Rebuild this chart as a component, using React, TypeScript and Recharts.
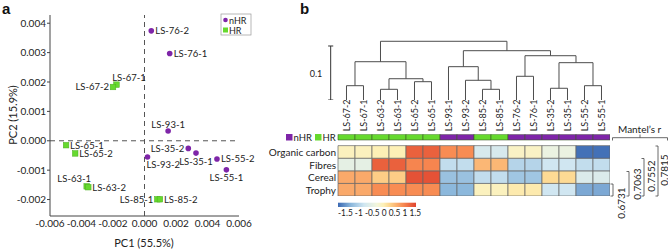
import React from 'react';
import { ScatterChart, Scatter, XAxis, YAxis, ReferenceLine, BarChart, Bar, Cell } from 'recharts';

const FONT = 'Lato, "Open Sans", sans-serif';
const PURPLE = '#7e25a8';
const GREEN = '#66d92e';
const TEXT = '#222';

// ---------- Panel a: PCA ----------
const sampleNames = ['LS-76-2', 'LS-76-1', 'LS-67-1', 'LS-67-2', 'LS-93-1', 'LS-65-1', 'LS-65-2', 'LS-35-2', 'LS-35-1', 'LS-93-2', 'LS-55-2', 'LS-55-1', 'LS-63-1', 'LS-63-2', 'LS-85-1', 'LS-85-2'];
const pc1Values = [0.00043, 0.0016, -0.00178, -0.002, 0.0015, -0.00498, -0.0044, 0.00278, 0.00327, 0.00019, 0.0046, 0.0052, -0.00367, -0.00357, 0.00081, 0.00098];
const pc2Values = [0.00374, 0.00297, 0.00191, 0.00183, 0.00033, -0.00015, -0.00043, -0.00026, -0.00042, -0.00055, -0.00062, -0.00099, -0.00155, -0.00158, -0.00199, -0.00199];
const sampleGroups = ['nHR', 'nHR', 'HR', 'HR', 'nHR', 'HR', 'HR', 'nHR', 'nHR', 'nHR', 'nHR', 'nHR', 'HR', 'HR', 'HR', 'HR'];
const labelSides = ['r', 'r', 'as', 'l', 'ac', 'r', 'r', 'l', 'bc', 'bs', 'r', 'bc', 'ae', 'r', 'l', 'r'];
const pc1Ticks = [-0.006, -0.004, -0.002, 0, 0.002, 0.004, 0.006];
const pc2Ticks = [-0.002, -0.001, 0, 0.001, 0.002, 0.003, 0.004];

// ---------- Panel b: dendrogram + heatmap ----------
const columnSamples = ['LS-67-2', 'LS-67-1', 'LS-63-2', 'LS-63-1', 'LS-65-2', 'LS-65-1', 'LS-93-1', 'LS-93-2', 'LS-85-2', 'LS-85-1', 'LS-76-2', 'LS-76-1', 'LS-35-2', 'LS-35-1', 'LS-55-2', 'LS-55-1'];
const columnGroups = ['HR', 'HR', 'HR', 'HR', 'HR', 'HR', 'nHR', 'nHR', 'HR', 'HR', 'nHR', 'nHR', 'nHR', 'nHR', 'nHR', 'nHR'];
// merges in linkage style: leaves 0..15, new clusters 16..30
const mergePairs: [number, number][] = [[0, 1], [2, 3], [4, 5], [17, 18], [16, 19], [8, 9], [7, 21], [6, 22], [10, 11], [12, 13], [14, 15], [25, 26], [24, 27], [23, 28], [20, 29]];
const mergeHeights = [0.0265, 0.0198, 0.0339, 0.0394, 0.0709, 0.0198, 0.0365, 0.0617, 0.0439, 0.0217, 0.0265, 0.0691, 0.082, 0.0913, 0.1087];
const rowNames = ['Organic carbon', 'Fibres', 'Cereal', 'Trophy'];
const organicCarbon = [0.2, 0.2, 0.25, 0.25, 1.3, 1.3, 1.0, 1.0, -0.4, -0.4, 0.15, 0.15, -0.12, -0.12, -1.45, -1.45];
const fibres = [-0.2, -0.2, 1.3, 1.3, 1.05, 1.05, -0.6, -0.6, 0.7, 0.7, -0.7, -0.7, -0.5, -0.5, -0.6, -0.6];
const cereal = [0.8, 0.8, 0.55, 0.55, 1.4, 1.4, -0.9, -0.9, -0.6, -0.6, -0.85, -0.85, 0.45, 0.45, -0.35, -0.35];
const trophy = [0.8, 0.8, 1.0, 1.0, 1.0, 1.0, -1.0, -1.0, 0.2, 0.2, 0.3, 0.3, -0.5, -0.5, -1.1, -1.1];
const colorbarTicks = [-1.5, -1, -0.5, 0, 0.5, 1, 1.5];
const mantelLabels = ['0.6731', '0.7063', '0.7552', '0.7815'];

const colorStops: [number, string][] = [
  [-1.5, '#3b69b3'], [-1, '#8cb8dc'], [-0.5, '#d0e6f1'], [0, '#f3f6dc'], [0.25, '#fdf0b6'],
  [0.5, '#fdd48c'], [1, '#f88c53'], [1.5, '#e0442f'],
];
function hexToRgb(h: string) { return [1, 3, 5].map((i) => parseInt(h.slice(i, i + 2), 16)); }
function heatColor(v: number) {
  if (v <= colorStops[0][0]) return colorStops[0][1];
  for (let i = 1; i < colorStops.length; i++) {
    const [v1, c1] = colorStops[i];
    const [v0, c0] = colorStops[i - 1];
    if (v <= v1) {
      const t = (v - v0) / (v1 - v0);
      const a = hexToRgb(c0), b = hexToRgb(c1);
      const m = a.map((x, k) => Math.round(x + (b[k] - x) * t));
      return `rgb(${m[0]},${m[1]},${m[2]})`;
    }
  }
  return colorStops[colorStops.length - 1][1];
}

// ---------- Panel a helpers ----------
const pcaData = sampleNames.map((name, i) => ({ name, x: pc1Values[i], y: pc2Values[i], group: sampleGroups[i], side: labelSides[i] }));
const nhrData = pcaData.filter((d) => d.group === 'nHR');
const hrData = pcaData.filter((d) => d.group === 'HR');

function PointShape(props: any) {
  const { cx, cy, payload } = props;
  if (cx == null || cy == null) return null;
  const isHR = payload.group === 'HR';
  let tx = cx + 4, ty = cy, anchor = 'start';
  switch (payload.side) {
    case 'l': tx = cx - 4; anchor = 'end'; break;
    case 'ac': tx = cx; ty = cy - 7; anchor = 'middle'; break;
    case 'as': tx = cx - 4.3; ty = cy - 7.5; anchor = 'start'; break;
    case 'ae': tx = cx + 4.3; ty = cy - 8; anchor = 'end'; break;
    case 'bc': tx = cx; ty = cy + 8; anchor = 'middle'; break;
    case 'bs': tx = cx - 1; ty = cy + 7.5; anchor = 'start'; break;
  }
  return (
    <g>
      {isHR ? (
        <rect x={cx - 2.8} y={cy - 2.8} width={5.6} height={5.6} fill={GREEN} stroke="#4cae22" strokeWidth={0.5} />
      ) : (
        <circle cx={cx} cy={cy} r={2.8} fill={PURPLE} />
      )}
      <text x={tx} y={ty} textAnchor={anchor as any} dominantBaseline="central" fontSize={9.5} fill={TEXT} fontFamily={FONT}>{payload.name}</text>
    </g>
  );
}

function PanelA() {
  return (
    <div style={{ position: 'absolute', left: 0, top: 0 }}>
      <ScatterChart width={268} height={249} margin={{ top: 15, right: 29, bottom: 13, left: 0 }}>
        <XAxis type="number" dataKey="x" domain={[-0.006, 0.006]} ticks={pc1Ticks} interval={0}
          tickFormatter={(v: number) => v.toFixed(3)} tickLine={false} tickSize={0} tickMargin={4} height={20}
          stroke="#444" tick={{ fontSize: 10, fill: TEXT, fontFamily: FONT }} />
        <YAxis type="number" dataKey="y" domain={[-0.00256, 0.00428]} ticks={pc2Ticks} interval={0}
          tickFormatter={(v: number) => v.toFixed(3)} tickSize={3} tickMargin={1} width={50}
          stroke="#444" tick={{ fontSize: 10, fill: TEXT, fontFamily: FONT }} />
        <ReferenceLine x={0} stroke="#555" strokeDasharray="5 4" />
        <ReferenceLine y={0} stroke="#555" strokeDasharray="5 4" />
        <Scatter data={nhrData} shape={PointShape} isAnimationActive={false} />
        <Scatter data={hrData} shape={PointShape} isAnimationActive={false} />
      </ScatterChart>
    </div>
  );
}

// ---------- Panel b helpers ----------
const nodeX: number[] = columnSamples.map((_, i) => i);
const nodeH: number[] = columnSamples.map(() => 0);
mergePairs.forEach(([a, b], k) => {
  nodeX.push((nodeX[a] + nodeX[b]) / 2);
  nodeH.push(mergeHeights[k]);
});
const dendroSegments: { x1: number; y1: number; x2: number; y2: number }[] = [];
mergePairs.forEach(([a, b], k) => {
  const h = mergeHeights[k];
  dendroSegments.push({ x1: nodeX[a], y1: nodeH[a], x2: nodeX[a], y2: h });
  dendroSegments.push({ x1: nodeX[b], y1: nodeH[b], x2: nodeX[b], y2: h });
  dendroSegments.push({ x1: nodeX[a], y1: h, x2: nodeX[b], y2: h });
});
const leafPoints = columnSamples.map((name, i) => ({ x: i, y: 0, name }));

function Dendrogram() {
  const scaleX = -0.93;
  return (
    <div style={{ position: 'absolute', left: 300, top: 40 }}>
      <ScatterChart width={310} height={60} margin={{ top: 0, right: 0, bottom: 0, left: 0 }}>
        <XAxis type="number" dataKey="x" domain={[-2.735, 15.5]} hide allowDataOverflow />
        <YAxis type="number" dataKey="y" domain={[0, 0.1111]} hide allowDataOverflow />
        {dendroSegments.map((s, i) => (
          <ReferenceLine key={i} segment={[{ x: s.x1, y: s.y1 }, { x: s.x2, y: s.y2 }]} stroke="#4d4d4d" strokeWidth={1} ifOverflow="visible" />
        ))}
        <ReferenceLine segment={[{ x: scaleX, y: 0 }, { x: scaleX, y: 0.1 }]} stroke="#333" ifOverflow="visible" />
        <ReferenceLine segment={[{ x: scaleX - 0.15, y: 0 }, { x: scaleX + 0.15, y: 0 }]} stroke="#333" ifOverflow="visible" />
        <ReferenceLine segment={[{ x: scaleX - 0.15, y: 0.1 }, { x: scaleX + 0.15, y: 0.1 }]} stroke="#333" ifOverflow="visible" />
        <Scatter data={leafPoints} shape={() => null} isAnimationActive={false} />
      </ScatterChart>
    </div>
  );
}

const heatRows = [organicCarbon, fibres, cereal, trophy];
const heatData = columnSamples.map((name, i) => ({ name, trophy: 1, cereal: 1, fibres: 1, organic: 1, gap: 0.45, group: 0.45, idx: i }));
const rowTickMap: Record<string, string> = { '3.5': rowNames[0], '2.5': rowNames[1], '1.5': rowNames[2], '0.5': rowNames[3] };

function LeafTick(props: any) {
  const { x, y, payload } = props;
  return (
    <text x={x} y={y} transform={`rotate(-90 ${x} ${y})`} textAnchor="start" dominantBaseline="central" fontSize={9} fill={TEXT} fontFamily={FONT}>{payload.value}</text>
  );
}

function RowTick(props: any) {
  const { x, y, payload } = props;
  return (
    <text x={x} y={y} textAnchor="end" dominantBaseline="central" fontSize={10} fill={TEXT} fontFamily={FONT}>{rowTickMap[String(payload.value)]}</text>
  );
}

function Heatmap() {
  const stroke = '#666';
  return (
    <div style={{ position: 'absolute', left: 268, top: 96 }}>
      <BarChart width={342} height={100} data={heatData} margin={{ top: 0, right: 0, bottom: 0, left: 0 }} barCategoryGap={0} barGap={0}>
        <XAxis dataKey="name" orientation="top" interval={0} axisLine={false} tickLine={false} tickSize={0} tickMargin={3} height={38.3} tick={<LeafTick />} />
        <YAxis type="number" domain={[0, 4.9]} ticks={[0.5, 1.5, 2.5, 3.5]} interval={0} width={70} axisLine={false} tickLine={false} tickSize={0} tickMargin={2}
          tick={<RowTick />} allowDataOverflow />
        <Bar dataKey="trophy" stackId="h" isAnimationActive={false} stroke={stroke} strokeWidth={0.7}>
          {heatRows[3].map((v, i) => <Cell key={i} fill={heatColor(v)} />)}
        </Bar>
        <Bar dataKey="cereal" stackId="h" isAnimationActive={false} stroke={stroke} strokeWidth={0.7}>
          {heatRows[2].map((v, i) => <Cell key={i} fill={heatColor(v)} />)}
        </Bar>
        <Bar dataKey="fibres" stackId="h" isAnimationActive={false} stroke={stroke} strokeWidth={0.7}>
          {heatRows[1].map((v, i) => <Cell key={i} fill={heatColor(v)} />)}
        </Bar>
        <Bar dataKey="organic" stackId="h" isAnimationActive={false} stroke={stroke} strokeWidth={0.7}>
          {heatRows[0].map((v, i) => <Cell key={i} fill={heatColor(v)} />)}
        </Bar>
        <Bar dataKey="gap" stackId="h" isAnimationActive={false} fill="none" />
        <Bar dataKey="group" stackId="h" isAnimationActive={false} stroke="#3d5a2a" strokeWidth={0.6}>
          {columnGroups.map((g, i) => <Cell key={i} fill={g === 'HR' ? GREEN : PURPLE} />)}
        </Bar>
      </BarChart>
    </div>
  );
}

function Overlay() {
  const cbX = 338, cbW = 78, cbY = 202.7, cbH = 4.3;
  const brackets = [
    { x: 613, y1: 184, y2: 196, tx: 621, ty: 203 },
    { x: 629, y1: 171.5, y2: 196, tx: 636.5, ty: 184 },
    { x: 644, y1: 158.5, y2: 196, tx: 651, ty: 176 },
    { x: 658, y1: 146, y2: 196, tx: 663.5, ty: 170 },
  ];
  return (
    <svg width={668} height={249} style={{ position: 'absolute', left: 0, top: 0, pointerEvents: 'none' }} fontFamily={FONT}>
      <defs>
        <linearGradient id="cbar" x1="0" x2="1" y1="0" y2="0">
          {colorStops.map(([v, c], i) => <stop key={i} offset={(v + 1.5) / 3} stopColor={c} />)}
        </linearGradient>
      </defs>
      <text x={2} y={14} fontSize={15} fontWeight="bold" fontFamily='"Liberation Sans", Arial, sans-serif' fill="#111">a</text>
      <text x={300} y={14} fontSize={15} fontWeight="bold" fontFamily='"Liberation Sans", Arial, sans-serif' fill="#111">b</text>
      <text x={12} y={115} transform="rotate(-90 12 115)" textAnchor="middle" dominantBaseline="central" fontSize={11} fill={TEXT}>PC2 (15.9%)</text>
      <text x={144} y={242} textAnchor="middle" dominantBaseline="central" fontSize={11} fill={TEXT}>PC1 (55.5%)</text>
      {/* legend a */}
      <rect x={221} y={14} width={30} height={21} fill="#fff" stroke="#999" strokeWidth={0.7} />
      <circle cx={225.5} cy={20} r={2.3} fill={PURPLE} />
      <text x={229} y={20} dominantBaseline="central" fontSize={9} fill={TEXT}>nHR</text>
      <rect x={223} y={27.5} width={5} height={5} fill={GREEN} />
      <text x={229} y={30} dominantBaseline="central" fontSize={9} fill={TEXT}>HR</text>
      {/* dendrogram scale label */}
      <text x={316} y={73} textAnchor="middle" dominantBaseline="central" fontSize={9} fill={TEXT}>0.1</text>
      {/* legend b */}
      <rect x={286} y={134} width={6.5} height={6.5} fill={PURPLE} />
      <text x={293.5} y={137.5} dominantBaseline="central" fontSize={9.5} fill={TEXT}>nHR</text>
      <rect x={315} y={134} width={6.5} height={6.5} fill={GREEN} />
      <text x={322.5} y={137.5} dominantBaseline="central" fontSize={9.5} fill={TEXT}>HR</text>
      {/* colorbar */}
      <rect x={cbX} y={cbY} width={cbW} height={cbH} fill="url(#cbar)" />
      <text x={338} y={212} dominantBaseline="central" fontSize={10} fill={TEXT} textLength={83} lengthAdjust="spacingAndGlyphs">
        {colorbarTicks.map(String).join(' ')}
      </text>
      {/* Mantel */}
      <text x={618} y={129} dominantBaseline="central" fontSize={10} fill={TEXT}>Mantel’s r</text>
      <path d="M612.5,140.5 V137.7 H667.5 V140.5 M640,137.7 V134.5" fill="none" stroke="#444" strokeWidth={0.8} />
      {brackets.map((b, i) => (
        <g key={i}>
          <path d={`M${b.x - 2.5},${b.y1} H${b.x} V${b.y2} H${b.x - 2.5}`} fill="none" stroke="#444" strokeWidth={0.8} />
          <text x={b.tx} y={b.ty} transform={`rotate(-90 ${b.tx} ${b.ty})`} textAnchor="middle" dominantBaseline="central" fontSize={10} fill={TEXT}>{mantelLabels[i]}</text>
        </g>
      ))}
    </svg>
  );
}

export default function App() {
  return (
    <div style={{ position: 'absolute', left: 0, top: 0, width: 668, height: 249, background: '#fff', overflow: 'hidden' }}>
      <PanelA />
      <Dendrogram />
      <Heatmap />
      <Overlay />
    </div>
  );
}
